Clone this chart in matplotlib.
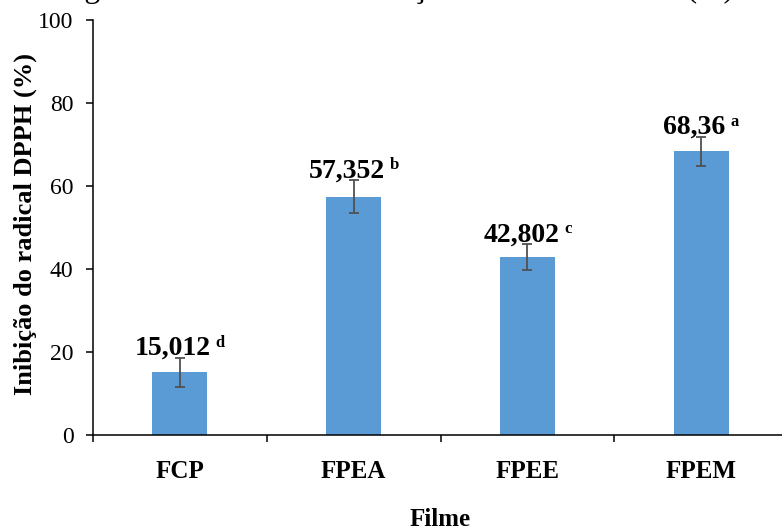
import numpy as np
import matplotlib
matplotlib.use("Agg")
import matplotlib.pyplot as plt

# inibição do radical DPPH por filme (média, desvio e letras do teste)
filmes = ["FCP", "FPEA", "FPEE", "FPEM"]
inibicao = [15.012, 57.352, 42.802, 68.36]
desvio = [3.6, 4.0, 3.1, 3.5]
rotulos = ["15,012", "57,352", "42,802", "68,36"]
letras = ["d", "b", "c", "a"]

plt.rcParams["font.family"] = ["Liberation Serif", "DejaVu Serif"]

W, H = 782, 530
fig = plt.figure(figsize=(W / 100, H / 100), dpi=100)
ax = fig.add_axes([93 / W, 95.3 / H, 695 / W, 414.7 / H])

x = np.arange(len(filmes))
ax.bar(x, inibicao, width=0.316, color="#5B9BD5", yerr=desvio,
       error_kw=dict(ecolor="#505050", elinewidth=1.3, capsize=3.6, capthick=1.3))

ax.set_xlim(-0.5, 3.5)
ax.set_ylim(0, 100)
ax.set_yticks(np.arange(0, 101, 20))
for s in ["top", "right"]:
    ax.spines[s].set_visible(False)
for s in ["left", "bottom"]:
    ax.spines[s].set_linewidth(1.1)
    ax.spines[s].set_color("black")

ax.set_xticks(x)
ax.set_xticklabels(filmes, fontweight="bold", fontsize=18)
ax.tick_params(axis="x", which="major", length=0, pad=18)
ax.set_xticks(np.arange(-0.5, 4, 1), minor=True)
ax.tick_params(axis="x", which="minor", length=5, width=1.1, direction="out")
ax.tick_params(axis="y", length=5, width=1.1, direction="out", labelsize=17, pad=9)

fig.text(25 / W, 1 - 224 / H, "Inibição do radical DPPH (%)", rotation=90,
         ha="center", va="center", fontsize=19, fontweight="bold")
fig.text(440 / W, 4 / H, "Filme", ha="center", va="baseline",
         fontsize=18, fontweight="bold")

# legenda da figura, cortada no topo
fig.text(58 / W, 1 + 2.5 / H,
         "Figura 10 – Gráfico da inibição do radical DPPH (%) dos filmes",
         ha="left", va="baseline", fontsize=22.8)

# rótulos de valor com a letra sobrescrita, centrados na barra
renderer = fig.canvas.get_renderer()
gap = 5
for xi, v, e, rot, let in zip(x, inibicao, desvio, rotulos, letras):
    t1 = ax.annotate(rot, (xi, v + e), xytext=(0, 3), textcoords="offset pixels",
                     ha="center", va="baseline", fontsize=20, fontweight="bold")
    t2 = ax.annotate(let, (xi, v + e), xytext=(0, 11), textcoords="offset pixels",
                     ha="left", va="baseline", fontsize=12, fontweight="bold")
    w1 = t1.get_window_extent(renderer).width
    w2 = t2.get_window_extent(renderer).width
    tot = w1 + gap + w2
    t1.set_position((-tot / 2 + w1 / 2, 3))
    t2.set_position((-tot / 2 + w1 + gap, 11))

fig.savefig("out.png", dpi=100)
